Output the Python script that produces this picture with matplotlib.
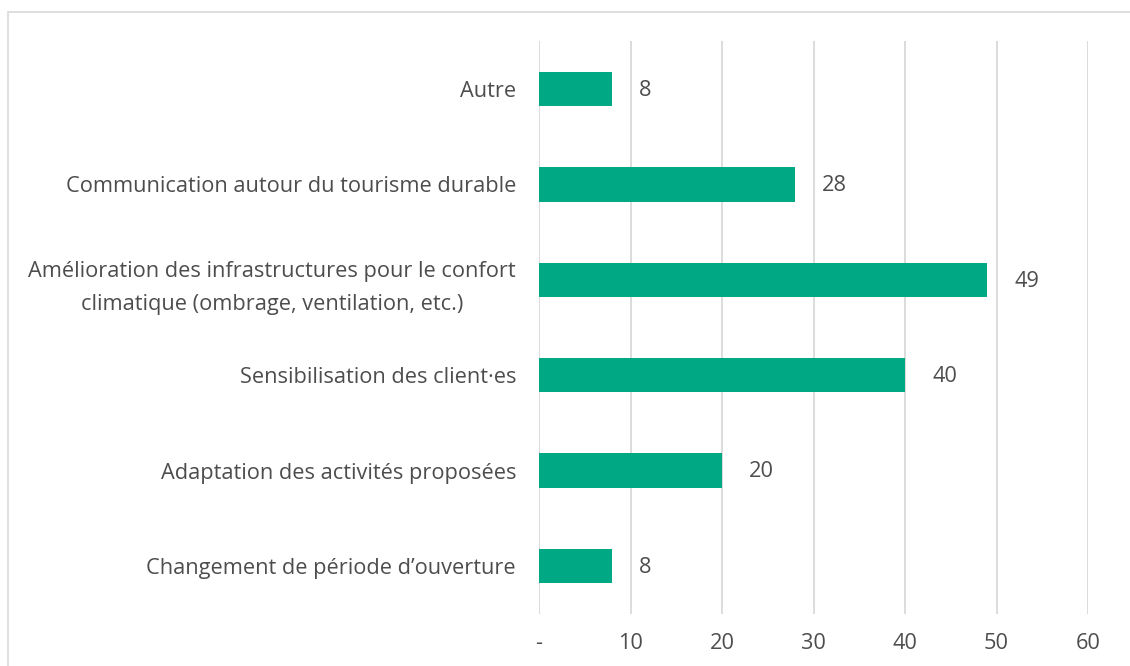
import matplotlib.pyplot as plt
from matplotlib.patches import Rectangle

# Categories listed bottom to top
categories = [
    "Changement de période d\u2019ouverture",
    "Adaptation des activités proposées",
    "Sensibilisation des client\u00b7es",
    "Amélioration des infrastructures pour le confort\nclimatique (ombrage, ventilation, etc.)",
    "Communication autour du tourisme durable",
    "Autre",
]
values = [8, 20, 40, 49, 28, 8]
xticks = [0, 10, 20, 30, 40, 50, 60]
xtick_labels = ["-", "10", "20", "30", "40", "50", "60"]

text_color = "#4D4D4D"
bar_color = "#00A884"
grid_color = "#D9D9D9"

plt.rcParams['font.family'] = ['Open Sans', 'DejaVu Sans']
fs = 15.7

fig = plt.figure(figsize=(11.3, 6.66), dpi=100)
ax = fig.add_axes([539 / 1130, 1 - 613.7 / 666, (1088 - 539) / 1130, (613.7 - 41.3) / 666])

y = range(len(categories))
ax.barh(y, values, height=0.36, color=bar_color, zorder=3)

for yi, v in zip(y, values):
    ax.annotate(str(v), (v, yi), xytext=(19.5, -1), textcoords="offset points",
                va="center", ha="left", fontsize=fs, color=text_color)

ax.set_xlim(0, 60)
ax.set_ylim(-0.5, len(categories) - 0.5)
ax.set_yticks(list(y))
ax.set_yticklabels(categories, fontsize=fs, color=text_color, ha="right",
                   multialignment="center", linespacing=1.72)
ax.set_xticks(xticks)
ax.set_xticklabels(xtick_labels, fontsize=fs, color=text_color)
ax.tick_params(axis="y", length=0, pad=16.5)
ax.tick_params(axis="x", length=0, pad=14)
ax.grid(axis="x", color=grid_color, linewidth=1.3, zorder=0)
for s in ax.spines.values():
    s.set_visible(False)

# Chart border (right and bottom edges fall outside the image)
fig.patches.append(Rectangle((8 / 1130, -0.1), 1.2, 1 - 12 / 666 + 0.1,
                             transform=fig.transFigure, fill=False,
                             edgecolor=grid_color, linewidth=1.2))

fig.savefig("out.png", dpi=100)
